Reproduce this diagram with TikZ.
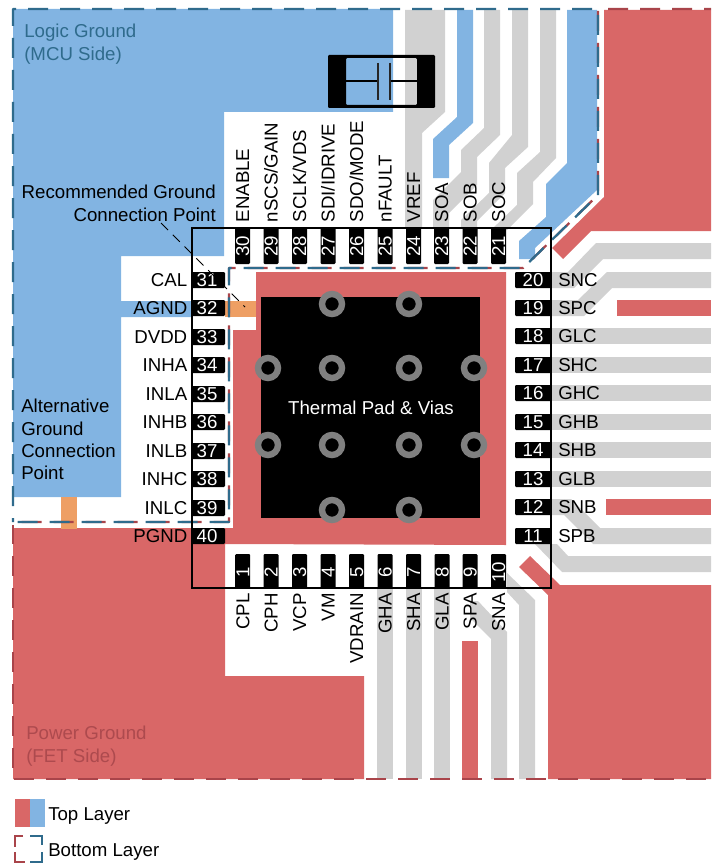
\documentclass[tikz,border=0pt]{standalone}
\usepackage{fontspec}
\setmainfont{Liberation Sans}
\definecolor{cred}{HTML}{D96767}
\definecolor{cblue}{HTML}{82B4E2}
\definecolor{cgray}{HTML}{D1D1D1}
\definecolor{corange}{HTML}{EE9F64}
\definecolor{dblue}{HTML}{2F6B8C}
\definecolor{dred}{HTML}{A9444A}
\definecolor{tblue}{HTML}{2F6B8C}
\definecolor{tred}{HTML}{AD4A4E}
\tikzset{
  lbl/.style={inner sep=0pt,font=\fontsize{14pt}{16.8pt}\selectfont,text height=10pt,text depth=0pt},
  num/.style={lbl,text=white},
  redfill/.style={fill=cred,draw=none},
  bluefill/.style={fill=cblue,draw=none},
  grayfill/.style={fill=cgray,draw=none},
  orangefill/.style={fill=corange,draw=none},
  pinbox/.style={fill=black,rounded corners=0.8pt,draw=none},
  bluedash/.style={draw=dblue,line width=1.7pt,line join=round},
  reddash/.style={draw=dred,line width=1.7pt,line join=round},
  multi/.style={inner sep=0pt,font=\fontsize{14pt}{16.8pt}\selectfont},
}
\begin{document}
\begin{tikzpicture}[x=0.75pt,y=-0.75pt]
\useasboundingbox (0,0) rectangle (711,863);
% logic ground
\fill[bluefill] (13,9) -- (393,9) -- (393,112) -- (224,112) -- (224,256) -- (121,256) -- (121,301) -- (192,301) -- (192,317) -- (121,317) -- (121,497) -- (13,497) -- cycle;
\fill[bluefill] (457,10) -- (473,10) -- (473,123) -- (449,145) -- (449,178) -- (433,178) -- (433,139) -- (457,117) -- cycle;
\fill[bluefill] (567,10) -- (597,10) -- (597,190) -- (535,248) -- (535,259) -- (519,259) -- (519,241) -- (546,217) -- (546,184) -- (567,163) -- cycle;
% power ground
\fill[redfill] (13,528) -- (233,528) -- (233,330) -- (256,330) -- (256,272) -- (506,272) -- (506,545) -- (225,544) -- (225,676) -- (364,676) -- (364,779) -- (13,779) -- cycle;
\fill[redfill] (604,10) -- (711,10) -- (711,231) -- (591,231) -- (563,259) -- (552,248) -- (604,197) -- cycle;
\fill[redfill] (530,556) -- (560,585) -- (711,585) -- (711,779) -- (548,779) -- (548,595) -- (519,567) -- cycle;
\fill[redfill] (617,300) rectangle (711,316);
\fill[redfill] (606,499) rectangle (711,515);
\fill[redfill] (462,641) rectangle (478,779);
% orange bridges
\fill[orangefill] (225,301) rectangle (256,317);
\fill[orangefill] (61,497) rectangle (77,529);
% top traces
\fill[grayfill] (405,10) -- (445,10) -- (445,112) -- (422,133) -- (422,228) -- (405,228) -- cycle;
\fill[grayfill] (484,10) -- (500,10) -- (500,135) -- (477,157) -- (477,185) -- (449,213) -- (449,228) -- (433,228) -- (433,200) -- (461,172) -- (461,150) -- (484,128) -- cycle;
\fill[grayfill] (512,10) -- (528,10) -- (528,147) -- (505,168) -- (505,193) -- (477,221) -- (477,228) -- (461,228) -- (461,220) -- (489,193) -- (489,163) -- (512,135) -- cycle;
\fill[grayfill] (540,10) -- (556,10) -- (556,158) -- (533,182) -- (533,204) -- (507,230) -- (491,230) -- (517,205) -- (517,173) -- (540,152) -- cycle;
% right traces
\fill[grayfill] (551,272) -- (568,272) -- (596,243) -- (711,243) -- (711,259) -- (603,259) -- (574,288) -- (551,288) -- cycle;
\fill[grayfill] (551,300) -- (578,300) -- (607,272) -- (711,272) -- (711,288) -- (612,288) -- (584,316) -- (551,316) -- cycle;
\foreach \yy in {336,365,393,422,450,479} {\fill[grayfill] (551,\yy-8) rectangle (711,\yy+8);}
\fill[grayfill] (551,499) -- (571,499) -- (600,528) -- (711,528) -- (711,544) -- (593,544) -- (564,515) -- (551,515) -- cycle;
\fill[grayfill] (535,544) -- (557,544) -- (568,556) -- (711,556) -- (711,572) -- (562,572) -- cycle;
% bottom traces
\foreach \xx in {377,406,434} {\fill[grayfill] (\xx,588) rectangle (\xx+16,779);}
\fill[grayfill] (478,601) -- (507,632) -- (507,779) -- (491,779) -- (491,639) -- (470,618) -- (470,601) -- cycle;
\fill[grayfill] (507,573) -- (535,600) -- (535,779) -- (519,779) -- (519,605) -- (507,592) -- cycle;
% thermal pad
\fill[black] (261,297) rectangle (480,518);
\foreach \vx/\vy [count=\vi] in {332/304,409/304,268/368,332/368,409/368,474/368,268/445,332/445,409/445,474/445,332/510,409/510} {
  \fill[fill=black,draw=black!50,line width=4.8pt] (\vx,\vy) circle (10);
}
% capacitor
\fill[black,rounded corners=0.8pt,even odd rule] (328,55) rectangle (435,108) (346,58) rectangle (417,105);
\draw[black,line width=0.9pt] (346,81) -- (378,81) (390,81) -- (417,81);
\draw[black!85,line width=1.2pt] (378,63) -- (378,100) (390,63) -- (390,100);
% pins: left
\foreach \n/\yy/\t in {31/280/CAL,32/308/AGND,33/337/DVDD,34/365/INHA,35/394/INLA,36/422/INHB,37/451/INLB,38/479/INHC,39/508/INLC,40/536/PGND} {
  \fill[pinbox] (192,\yy-8) rectangle (225,\yy+8);
  \node[num] (n\n) at (207,\yy) {\n};
  \node[lbl,anchor=east] (t\n) at (187.5,\yy) {\t};
}
% pins: right
\foreach \n/\yy/\t in {20/280/SNC,19/308/SPC,18/336/GLC,17/365/SHC,16/393/GHC,15/422/GHB,14/450/SHB,13/479/GLB,12/507/SNB,11/536/SPB} {
  \fill[pinbox] (515,\yy-8) rectangle (551,\yy+8);
  \node[num] (n\n) at (533,\yy) {\n};
  \node[lbl,anchor=west] (t\n) at (558,\yy) {\t};
}
% pins: top
\foreach \n/\xx/\t in {30/242.5/ENABLE,29/271/nSCS\slash GAIN,28/299.5/SCLK\slash VDS,27/328/SDI\slash IDRIVE,26/356.5/SDO\slash MODE,25/385/nFAULT,24/413.5/VREF,23/441.5/SOA,22/470/SOB,21/498.5/SOC} {
  \fill[pinbox] (\xx-7.5,228) rectangle (\xx+7.5,264);
  \node[num,rotate=90] (n\n) at (\xx,246) {\n};
  \node[lbl,rotate=90,anchor=west] (t\n) at (\xx,222.5) {\t};
}
% pins: bottom
\foreach \n/\xx/\t in {1/242.7/CPL,2/271/CPH,3/299.5/VCP,4/328/VM,5/356.5/VDRAIN,6/385/GHA,7/413.5/SHA,8/442/GLA,9/470/SPA,10/498.5/SNA} {
  \fill[pinbox] (\xx-7.5,554) rectangle (\xx+7.5,588);
  \node[num,rotate=90] (n\n) at (\xx,572) {\n};
  \node[lbl,rotate=90,anchor=east] (t\n) at (\xx,593) {\t};
}
% bottom layer outlines
\draw[reddash,dash pattern=on 15pt off 9pt,dash phase=0.75pt] (13,525) -- (13,779) -- (711,779);
\draw[reddash,dash pattern=on 15pt off 9pt,dash phase=9.75pt] (711,9) -- (598,9) -- (598,195) -- (523,268) -- (229,268) -- (229,522) -- (13,522);
\draw[bluedash,dash pattern=on 15pt off 9pt,dash phase=12pt] (13,522) -- (13,9) -- (598,9) -- (598,195) -- (523,268) -- (229,268) -- (229,522) -- cycle;
% package outline
\draw[black,line width=1.5pt] (192,228) rectangle (551,588);
% texts
\node[num,anchor=center] (thermal) at (371,407.5) {Thermal Pad \& Vias};
\node[multi,text=tblue,anchor=north west,align=left] (logic) at (24,24) {Logic Ground\\(MCU Side)};
\node[multi,text=tred,anchor=north west,align=left] (power) at (26,726) {Power Ground\\(FET Side)};
\node[multi,anchor=north east,align=right] (rec) at (216,185) {Recommended Ground\\Connection Point};
\node[multi,anchor=north west,align=left] (alt) at (21,399) {Alternative\\Ground\\Connection\\Point};
% leader
\coordinate (leadA) at (161,223);
\coordinate (leadB) at (245,307);
\draw[black,line width=0.7pt,dash pattern=on 7.5pt off 5pt] (leadA) -- (leadB);
% legend
\fill[redfill] (15,799) rectangle (30,827);
\fill[bluefill] (30,799) rectangle (45,827);
\node[lbl,anchor=west] (top) at (48,814) {Top Layer};
\draw[draw=dred,line width=0.9pt] (23,836) -- (15,836) -- (15,847) (15,852) -- (15,862) -- (25,862);
\draw[draw=dblue,line width=0.9pt] (30,836) -- (42,836) -- (42,845) (42,852) -- (42,862) -- (30,862);
\node[lbl,anchor=west] (bot) at (48,850) {Bottom Layer};
\end{tikzpicture}
\end{document}
